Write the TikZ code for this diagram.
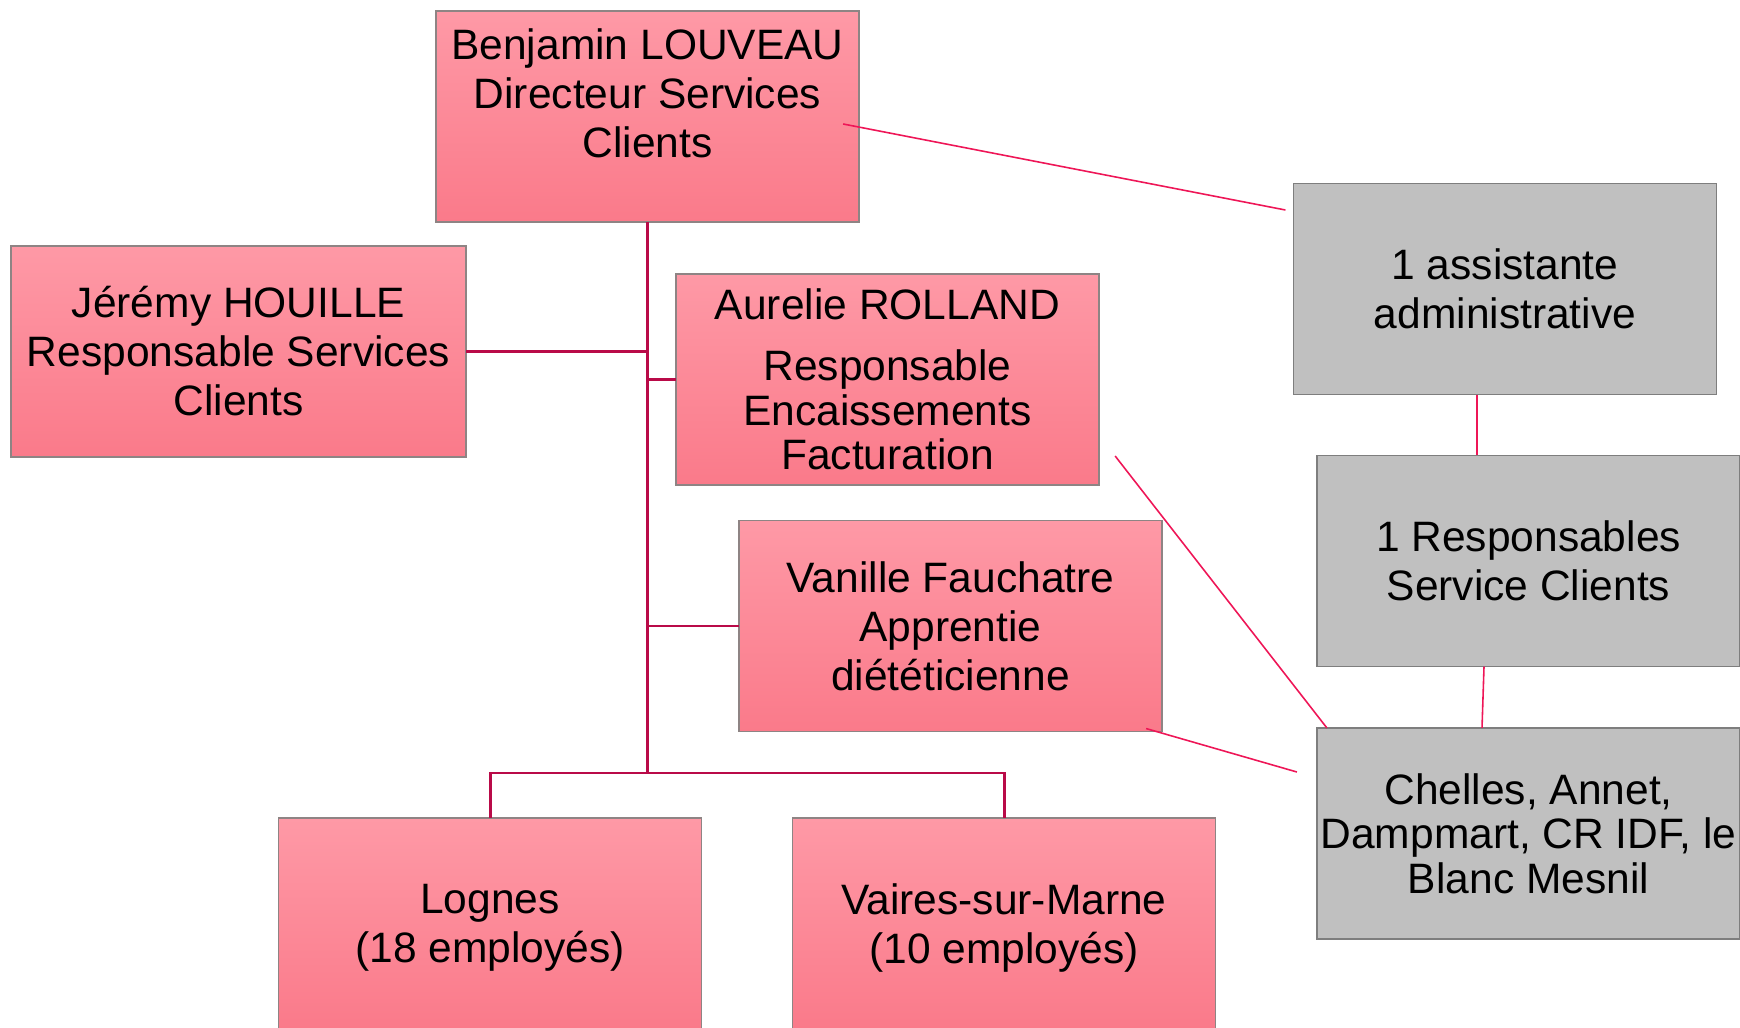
\documentclass[tikz,border=0pt]{standalone}
\usepackage{fontspec}
\setmainfont{Liberation Sans}
\definecolor{orgpinktop}{HTML}{FE99A6}
\definecolor{orgpinkbot}{HTML}{FA7A8A}
\definecolor{orgborder}{HTML}{8E8484}
\definecolor{orggray}{HTML}{C0C0C0}
\definecolor{orggrayline}{HTML}{7E7E7E}
\definecolor{orgtrunk}{HTML}{B90A48}
\definecolor{orglink}{HTML}{EE1657}
\tikzset{
  base box/.style={
    rectangle, line width=0.4pt,
    minimum width=4.23cm, minimum height=2.11cm,
    inner sep=1pt, outer sep=0pt, align=center, text=black,
    font=\fontsize{0.425cm}{0.49cm}\selectfont
  },
  org box/.style={
    base box, draw=orgborder,
    top color=orgpinktop, bottom color=orgpinkbot
  },
  staff box/.style={
    base box, draw=orggrayline, fill=orggray
  },
  site box/.style={
    org box, text depth=-0.05cm
  },
  trunk line/.style={
    draw=orgtrunk, line width=0.85pt
  },
  side link/.style={
    draw=orglink, line width=0.45pt
  }
}

\begin{document}
\begin{tikzpicture}[x=0.01cm,y=-0.01cm]
  \useasboundingbox (0,0) rectangle (1740,1028);

  % Main hierarchy, pink boxes.
  \node[org box, text depth=0.46cm] (dir) at (647.5,116.5)
    {Benjamin LOUVEAU\\ Directeur Services\\ Clients};
  \node[org box, minimum width=4.55cm] (jer) at (238.5,351.5)
    {Jérémy HOUILLE\\ Responsable Services\\ Clients};
  \node[org box, font=\fontsize{0.425cm}{0.445cm}\selectfont] (aur) at (887.5,379.5)
    {Aurelie ROLLAND\\[0.165cm] Responsable\\ Encaissements\\ Facturation};
  \node[org box] (van) at (950.5,626)
    {Vanille Fauchatre\\ Apprentie\\ diététicienne};
  \node[site box] (log) at (490,923.5) {Lognes\\ (18 employés)};
  \node[site box] (vai) at (1004,923.5) {Vaires-sur-Marne\\ (10 employés)};

  % Staff column on the right, grey boxes.
  \node[staff box] (asst) at (1505,289) {1 assistante\\ administrative};
  \node[staff box] (rsc) at (1528.5,561) {1 Responsables\\ Service Clients};
  \node[staff box, inner xsep=0pt, font=\fontsize{0.425cm}{0.445cm}\selectfont]
    (sites) at (1528.5,833.5) {Chelles, Annet,\\ Dampmart, CR IDF, le\\ Blanc Mesnil};

  % Trunk from the director down to the two sites.
  \coordinate (fork) at (dir.south |- 0,773);
  \draw[trunk line] (dir.south) -- (fork);
  \draw[trunk line] (jer.east) -- (jer.east -| fork);
  \draw[trunk line] (aur.west) -- (aur.west -| fork);
  \draw[trunk line] (van.west) -- (van.west -| fork);
  \draw[trunk line] (log.north) |- (fork) -| (vai.north);

  % Thin links towards the grey column.
  \draw[side link] ([shift={(-16,7.5)}]dir.east) -- ([shift={(-8,-79)}]asst.west);
  \draw[side link] ([shift={(-28,0)}]asst.south) -- ([shift={(-51.5,0)}]rsc.north);
  \draw[side link] ([shift={(-44.5,0)}]rsc.south) -- ([shift={(-46.5,0)}]sites.north);
  \draw[side link] ([shift={(16,76.5)}]aur.east) -- ([shift={(10,0)}]sites.north west);
  \draw[side link] ([shift={(-16,-3)}]van.south east) -- ([shift={(-20,-61.5)}]sites.west);
\end{tikzpicture}
\end{document}
